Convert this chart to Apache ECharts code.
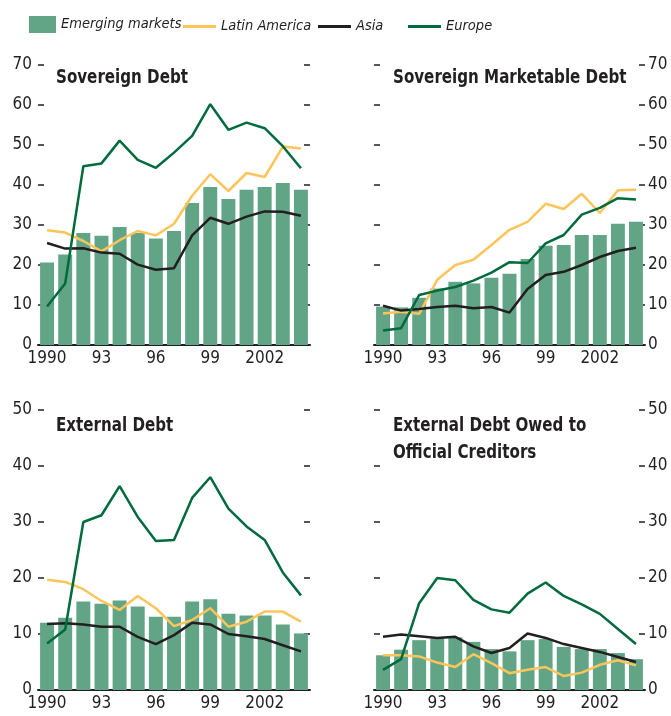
<!DOCTYPE html>
<html>
<head>
<meta charset="utf-8">
<script src="https://cdn.jsdelivr.net/npm/echarts@6/dist/echarts.min.js"></script>
<style>
  html, body { margin: 0; padding: 0; background: #fff; }
  #chart { width: 671px; height: 716px; }
</style>
</head>
<body>
<div id="chart"></div>
<script type="text/javascript">
	// categories and the labels printed under the axis
	var years = ['1990','1991','1992','1993','1994','1995','1996','1997','1998','1999','2000','2001','2002','2003','2004'];
	var tickLabels = ['1990','','','93','','','96','','','99','','','2002','',''];

	// Sovereign Debt
	var sovEM   = [20.6,22.6,28.0,27.3,29.5,28.0,26.6,28.5,35.5,39.5,36.5,38.8,39.5,40.5,38.8];
	var sovLA   = [28.7,28.1,26.0,23.4,26.2,28.5,27.4,30.3,37.3,42.7,38.5,43.0,42.0,49.6,49.1];
	var sovAsia = [25.5,24.1,24.2,23.1,22.8,20.1,18.8,19.2,27.4,31.8,30.3,32.1,33.4,33.3,32.3];
	var sovEur  = [9.6,15.4,44.7,45.4,51.1,46.3,44.3,48.1,52.3,60.2,53.8,55.6,54.2,49.7,44.2];

	// Sovereign Marketable Debt
	var mktEM   = [9.6,9.4,11.8,14.1,15.8,15.4,16.8,17.8,21.5,24.8,25.0,27.5,27.5,30.3,30.8];
	var mktLA   = [7.9,8.3,7.8,16.3,20.0,21.3,25.0,28.8,30.8,35.3,34.0,37.8,33.0,38.7,38.8];
	var mktAsia = [9.8,8.6,9.0,9.5,9.8,9.2,9.5,8.1,14.0,17.5,18.3,20.0,22.0,23.5,24.3];
	var mktEur  = [3.6,4.2,12.5,13.6,14.5,16.1,18.1,20.7,20.5,25.4,27.5,32.6,34.3,36.7,36.4];

	// External Debt
	var extEM   = [12.0,12.9,15.8,15.4,16.0,14.9,13.1,13.1,15.8,16.2,13.6,13.3,13.3,11.7,10.1];
	var extLA   = [19.7,19.3,18.0,15.9,14.3,16.8,14.6,11.4,12.5,14.6,11.3,12.2,14.0,14.0,12.2];
	var extAsia = [11.8,11.9,11.7,11.3,11.3,9.5,8.2,9.8,12.0,11.7,10.0,9.6,9.1,8.0,6.9];
	var extEur  = [8.3,10.8,30.0,31.2,36.4,30.9,26.6,26.8,34.3,38.0,32.4,29.2,26.8,21.0,16.9];

	// External Debt Owed to Official Creditors
	var offEM   = [6.2,7.2,8.9,9.2,9.4,8.6,7.3,6.9,8.9,9.1,7.7,7.3,7.3,6.6,5.5];
	var offLA   = [6.2,6.2,6.0,4.9,4.1,6.4,4.8,3.0,3.6,4.1,2.5,3.1,4.5,5.3,4.4];
	var offAsia = [9.5,9.9,9.6,9.3,9.5,7.8,6.6,7.5,10.1,9.3,8.2,7.5,6.8,5.9,5.0];
	var offEur  = [3.6,5.5,15.5,20.0,19.6,16.1,14.4,13.8,17.2,19.2,16.8,15.3,13.6,10.9,8.2];

	var titles = ['Sovereign Debt', 'Sovereign Marketable Debt', 'External Debt', 'External Debt Owed to\nOfficial Creditors'];
	var yMax = [70, 70, 50, 50];

	var font = "'DejaVu Sans Condensed', 'Liberation Sans', sans-serif";
	var ink = '#231f20';
	var cBar = '#62a586', cLA = '#fcc55a', cAsia = '#231f20', cEur = '#006b3c';

	var panels = [
		{ left: 38,  top: 65,  height: 280, width: 272, labelSide: 'left',  data: [sovEM, sovLA, sovAsia, sovEur] },
		{ left: 374, top: 65,  height: 280, width: 271, labelSide: 'right', data: [mktEM, mktLA, mktAsia, mktEur] },
		{ left: 38,  top: 410, height: 280, width: 272, labelSide: 'left',  data: [extEM, extLA, extAsia, extEur] },
		{ left: 374, top: 410, height: 280, width: 271, labelSide: 'right', data: [offEM, offLA, offAsia, offEur] }
	];

	var grid = [], xAxis = [], yAxis = [], series = [], graphic = [];

	panels.forEach(function (p, i) {
		grid.push({ left: p.left, top: p.top, width: p.width, height: p.height });

		xAxis.push({
			type: 'category', gridIndex: i, data: years,
			axisLine: { lineStyle: { color: ink, width: 2 } },
			axisTick: { inside: true, length: 4, lineStyle: { color: ink, width: 1 } },
			axisLabel: {
				interval: 0, margin: 5, color: ink, fontFamily: font, fontSize: 17,
				formatter: function (v, idx) { return tickLabels[idx]; }
			}
		});

		['left', 'right'].forEach(function (side) {
			yAxis.push({
				type: 'value', gridIndex: i, position: side,
				min: 0, max: yMax[i], interval: 10,
				splitLine: { show: false },
				axisLine: { show: false },
				axisTick: { show: true, inside: true, length: 6, lineStyle: { color: ink, width: 1.5 } },
				axisLabel: {
					show: side === p.labelSide,
					margin: side === 'left' ? 6 : 3,
					color: ink, fontFamily: font, fontSize: 17
				}
			});
		});

		var yi = i * 2;
		series.push({
			name: 'Emerging markets', type: 'bar', xAxisIndex: i, yAxisIndex: yi,
			data: p.data[0], barWidth: '77%', itemStyle: { color: cBar }
		});
		[['Latin America', cLA], ['Asia', cAsia], ['Europe', cEur]].forEach(function (s, k) {
			series.push({
				name: s[0], type: 'line', xAxisIndex: i, yAxisIndex: yi,
				data: p.data[k + 1], symbol: 'none',
				lineStyle: { color: s[1], width: 2.5 }, itemStyle: { color: s[1] }
			});
		});

		// panel titles, squeezed sideways to look like the condensed face
		graphic.push({
			type: 'text',
			x: i % 2 === 0 ? 56 : 393,
			y: i < 2 ? 78 : (i === 2 ? 426 : 439),
			scaleX: 0.84,
			style: {
				text: titles[i], fill: ink, verticalAlign: 'middle', lineHeight: 27,
				font: "bold 20px 'DejaVu Sans Condensed', 'Liberation Sans', sans-serif"
			}
		});
	});

	// one legend per item so each sits where it does in the figure
	var legendText = { fontFamily: font, fontSize: 14.5, fontStyle: 'italic', color: ink };
	var legend = [
		{ data: [{ name: 'Emerging markets', icon: 'rect' }], left: 29, top: 16, padding: 0, itemWidth: 27, itemHeight: 17, selectedMode: false, textStyle: legendText },
		{ data: [{ name: 'Latin America', icon: 'rect' }], left: 183, top: 19, padding: 0, itemWidth: 33, itemHeight: 3, selectedMode: false, textStyle: legendText },
		{ data: [{ name: 'Asia', icon: 'rect' }], left: 318, top: 19, padding: 0, itemWidth: 33, itemHeight: 3, selectedMode: false, textStyle: legendText },
		{ data: [{ name: 'Europe', icon: 'rect' }], left: 408, top: 19, padding: 0, itemWidth: 33, itemHeight: 3, selectedMode: false, textStyle: legendText }
	];

	var myChart = echarts.init(document.getElementById('chart'));
	myChart.setOption({
		backgroundColor: '#fff',
		animation: false,
		legend: legend,
		grid: grid,
		xAxis: xAxis,
		yAxis: yAxis,
		series: series,
		graphic: graphic
	});
</script>
</body>
</html>
